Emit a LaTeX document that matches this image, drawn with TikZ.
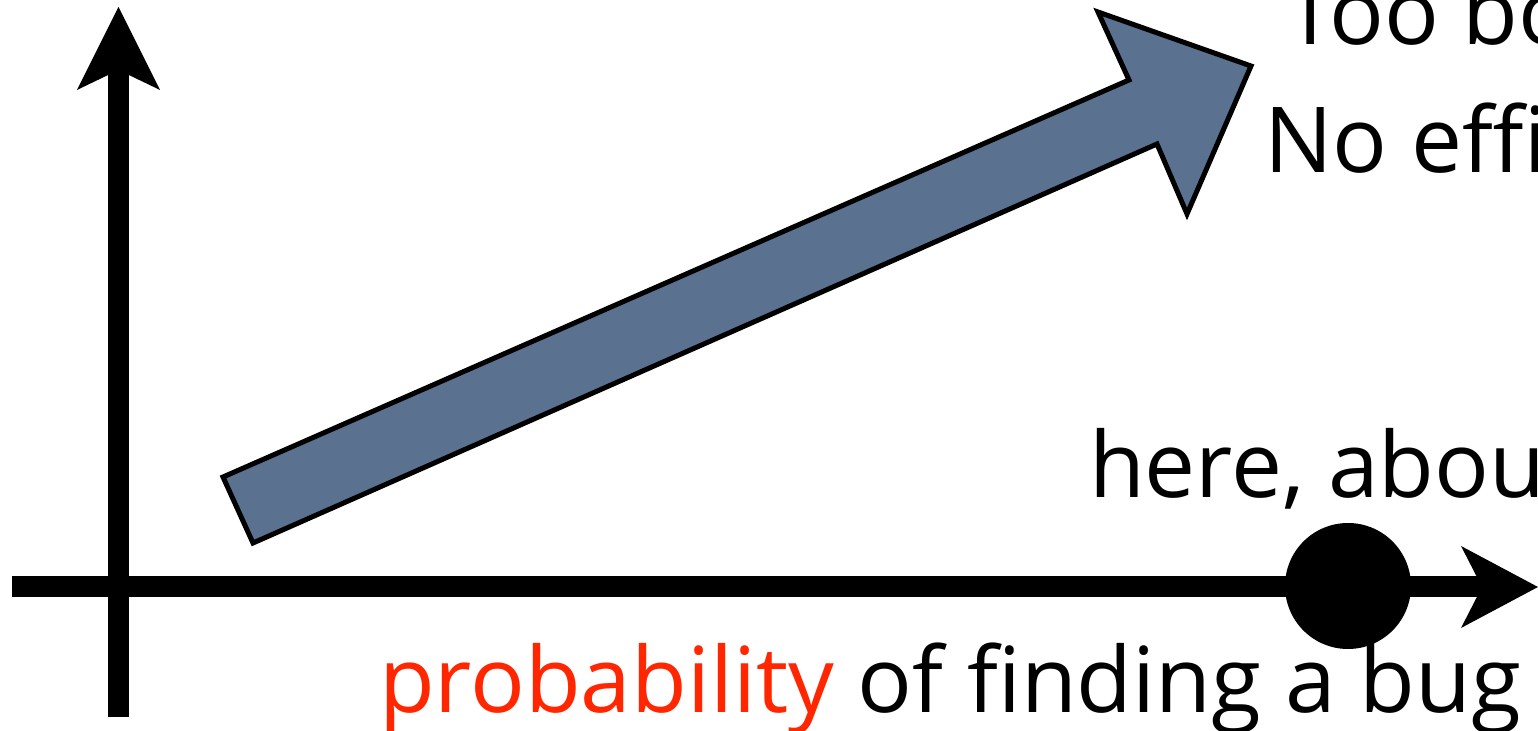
\documentclass[tikz,border=0pt]{standalone}
\usepackage{fontspec}
\setmainfont{Open Sans}
\definecolor{arrowblue}{RGB}{90,114,143}
\definecolor{probred}{RGB}{255,38,0}
\tikzset{
  axisline/.style={line width=10.5pt, black},
  axishead/.style={fill=black, draw=none},
  bigarrow/.style={fill=arrowblue, draw=black, line width=2.5pt, line join=miter},
  label/.style={font=\fontsize{45.5pt}{54pt}\selectfont, anchor=base west, inner sep=0pt, outer sep=0pt},
}
\begin{document}
\begin{tikzpicture}[x=0.5pt,y=-0.5pt]
\clip (0,0) rectangle (1538,731);
\useasboundingbox (0,0) rectangle (1538,731);
% axes
\coordinate (yb) at (118.5,717);
\coordinate (yn) at (118.5,70);
\coordinate (xl) at (12,587);
\coordinate (xn) at (1482,587);
\draw[axisline] (yb) -- (yn);
\draw[axisline] (xl) -- (xn);
\fill[axishead] (118.5,7) -- (77,90) -- (118.5,70) -- (160,90) -- cycle;
\fill[axishead] (1538,587) -- (1461,546) -- (1482,587) -- (1461,628) -- cycle;
% point on x axis
\fill[black] (1348,586) circle[radius=63];
% big arrow
\draw[bigarrow] (223,477) -- (1129,80) -- (1098,12) -- (1251,66) -- (1187,214) -- (1157,144) -- (253,543) -- cycle;
% texts
\node[label] (t1) at (1285,45) {Too bo};
\node[label] (t2) at (1264,173) {No effi};
\node[label] (t3) at (1089,498) {here, abou};
\node[label] (t4) at (379,713) {\textcolor{probred}{probability} of finding a bug};
\end{tikzpicture}
\end{document}
